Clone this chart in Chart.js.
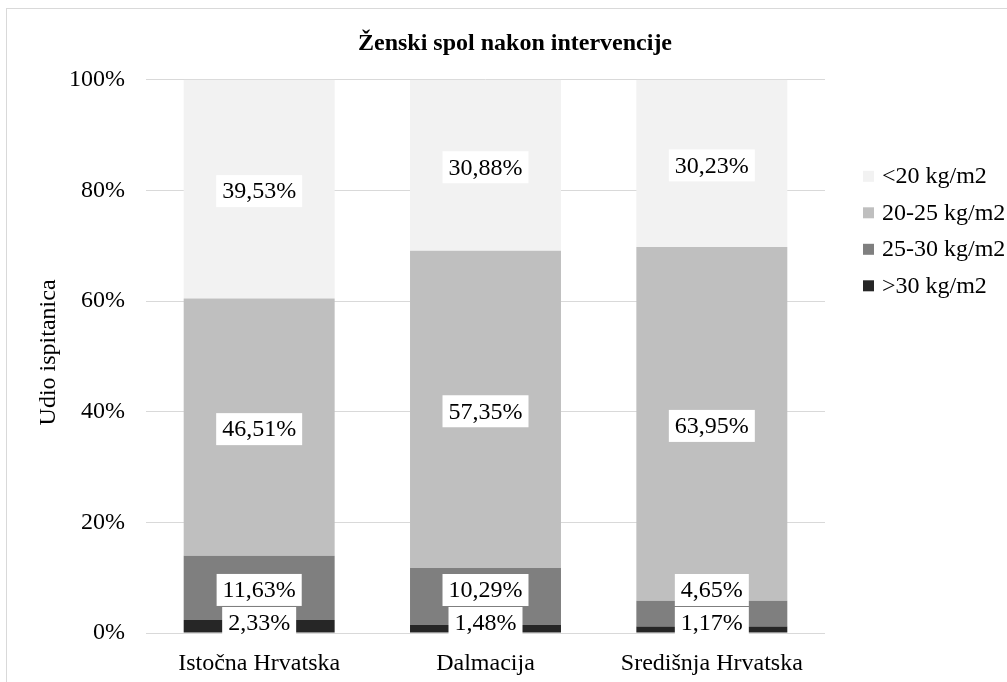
<!DOCTYPE html>
<html>
<head>
<meta charset="utf-8">
<script src="https://cdn.jsdelivr.net/npm/chart.js@4.4.0/dist/chart.umd.min.js"></script>
<style>
  html, body { margin: 0; padding: 0; background: #fff; overflow: hidden; }
  #okvir {
    position: absolute; left: 6px; top: 8px;
    width: 1016px; height: 700px;
    border: 1px solid #d9d9d9;
  }
</style>
</head>
<body>
<div id="okvir"><canvas id="myChart" width="1016" height="700"></canvas></div>
<script>
// Kategorije (regije)
const regije = ['Istočna Hrvatska', 'Dalmacija', 'Središnja Hrvatska'];

// Vrijednosti po skupinama ITM-a (postoci), odozdo prema gore
const preko30 = [2.33, 1.48, 1.17];
const od25do30 = [11.63, 10.29, 4.65];
const od20do25 = [46.51, 57.35, 63.95];
const ispod20 = [39.53, 30.88, 30.23];

const nazivi = ['>30 kg/m2', '25-30 kg/m2', '20-25 kg/m2', '<20 kg/m2'];
const boje = ['#262626', '#7f7f7f', '#bfbfbf', '#f2f2f2'];
const yTickovi = [0, 20, 40, 60, 80, 100];

const FONT = "'Liberation Serif', 'Times New Roman', serif";

// Plugin za oznake podataka, legendu i naslov osi Y
const dodaci = {
    id: 'dodaci',
    afterDatasetsDraw(chart) {
        const ctx = chart.ctx;
        const area = chart.chartArea;
        const visina = 32;
        ctx.save();
        ctx.font = '24px ' + FONT;
        ctx.textAlign = 'center';
        ctx.textBaseline = 'middle';
        regije.forEach((r, i) => {
            let prosliVrh = null;
            chart.data.datasets.forEach((ds, d) => {
                const bar = chart.getDatasetMeta(d).data[i];
                let sredina = (bar.y + bar.base) / 2 + 2;
                // ne ispod osi
                if (sredina + visina / 2 > area.bottom + 6) sredina = area.bottom + 6 - visina / 2;
                // ne preklapati s prethodnom oznakom
                if (prosliVrh !== null && sredina + visina / 2 > prosliVrh - 1) sredina = prosliVrh - 1 - visina / 2;
                prosliVrh = sredina - visina / 2;
                const tekst = ds.data[i].toFixed(2).replace('.', ',') + '%';
                const sirina = ctx.measureText(tekst).width + 12;
                ctx.fillStyle = '#ffffff';
                ctx.fillRect(bar.x - sirina / 2, sredina - visina / 2, sirina, visina);
                ctx.fillStyle = '#000000';
                ctx.fillText(tekst, bar.x, sredina + 1);
            });
        });
        ctx.restore();
    },
    afterDraw(chart) {
        const ctx = chart.ctx;
        const area = chart.chartArea;
        ctx.save();
        // Legenda (obrnutim redom)
        ctx.font = '24px ' + FONT;
        ctx.textBaseline = 'middle';
        ctx.textAlign = 'left';
        for (let k = 0; k < nazivi.length; k++) {
            const d = nazivi.length - 1 - k;
            const y = area.top + 96 + 36.5 * k;
            ctx.fillStyle = boje[d];
            ctx.fillRect(area.right + 38, y - 5, 11, 11);
            ctx.fillStyle = '#000000';
            ctx.fillText(nazivi[d], area.right + 57, y + 1);
        }
        // Naslov osi Y
        ctx.translate(area.left - 97, (area.top + area.bottom) / 2 - 4);
        ctx.rotate(-Math.PI / 2);
        ctx.textAlign = 'center';
        ctx.fillText('Udio ispitanica', 0, 0);
        ctx.restore();
    }
};

function nacrtajGrafikon() {
    const ctx = document.getElementById('myChart').getContext('2d');
    const serije = [preko30, od25do30, od20do25, ispod20];

    new Chart(ctx, {
        type: 'bar',
        data: {
            labels: regije,
            datasets: serije.map((vrijednosti, d) => ({
                label: nazivi[d],
                data: vrijednosti,
                backgroundColor: boje[d],
                borderWidth: 0,
                barPercentage: 0.667,
                categoryPercentage: 1
            }))
        },
        options: {
            responsive: false,
            animation: false,
            layout: { padding: 0 },
            scales: {
                x: {
                    stacked: true,
                    grid: { display: false },
                    border: { display: false },
                    ticks: { color: '#000', font: { family: FONT, size: 24 }, padding: 8 },
                    afterFit(s) { s.height = 76; }
                },
                y: {
                    stacked: true,
                    min: 0,
                    max: 100,
                    afterBuildTicks(s) { s.ticks = yTickovi.map(v => ({ value: v })); },
                    grid: { color: '#d9d9d9', lineWidth: 1, drawTicks: false },
                    border: { display: false },
                    ticks: {
                        color: '#000',
                        font: { family: FONT, size: 24 },
                        padding: 21,
                        callback: v => v + '%'
                    },
                    afterFit(s) { s.width = 139; }
                },
                prostor: {
                    position: 'right',
                    grid: { display: false },
                    border: { display: false },
                    ticks: { display: false },
                    afterFit(s) { s.width = 198; }
                }
            },
            plugins: {
                legend: { display: false },
                tooltip: { enabled: false },
                title: {
                    display: true,
                    text: 'Ženski spol nakon intervencije',
                    color: '#000',
                    font: { family: FONT, size: 24, weight: 'bold' },
                    padding: { top: 20, bottom: 22 }
                }
            }
        },
        plugins: [dodaci]
    });
}

window.onload = () => {
    nacrtajGrafikon();
};
</script>
</body>
</html>
